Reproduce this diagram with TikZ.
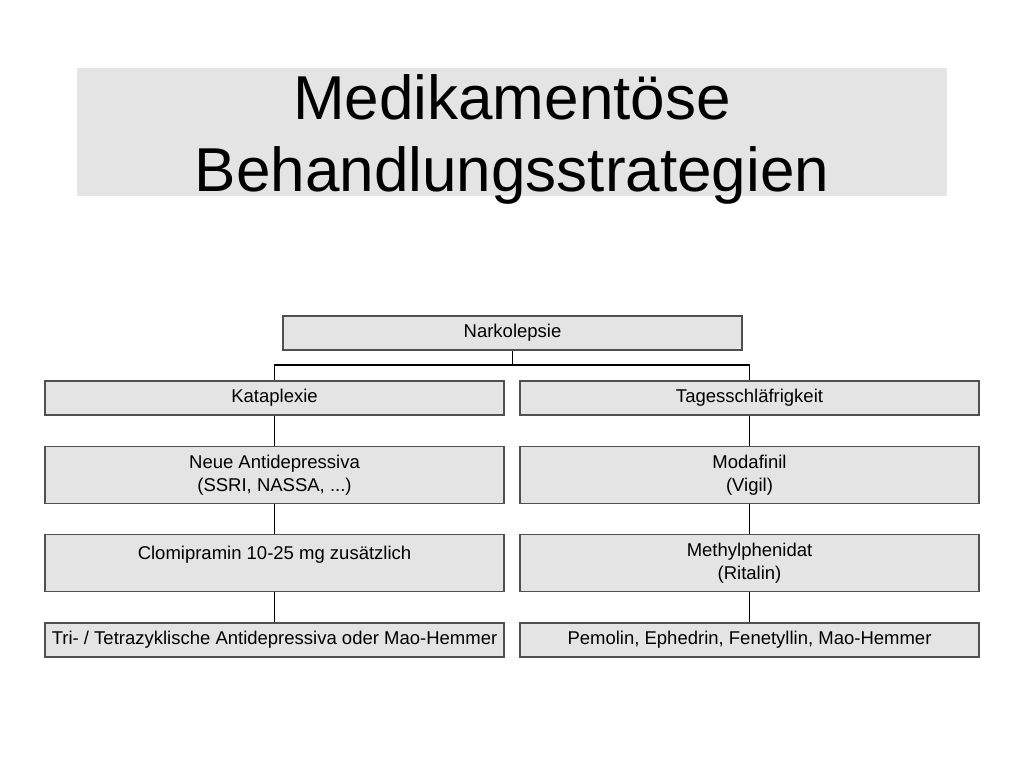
\documentclass[tikz,border=0pt]{standalone}
\usepackage{fontspec}
\setmainfont{Liberation Sans}
\definecolor{boxgray}{HTML}{E4E4E4}
\definecolor{linegray}{HTML}{505050}
\tikzset{
  stufe/.style={draw=linegray, line width=1.5pt, fill=boxgray, minimum width=459pt,
    align=center, font=\fontsize{18.5}{23}\selectfont, inner sep=0pt},
  kurz/.style={stufe, minimum height=34pt},
  lang/.style={stufe, minimum height=57pt},
  ast/.style={draw=black, line width=1.5pt}
}
\begin{document}
\begin{tikzpicture}[x=1pt,y=-1pt]
    \useasboundingbox (0,0) rectangle (1024,768);
    % title
    \fill[boxgray] (77,68) rectangle (947,196);
    \node (titel) at (512,139) [align=center, font=\fontsize{62}{72}\selectfont]
        {Medikament\"ose\\Behandlungsstrategien};
    % root
    \node (nark) at (512.5,333) [kurz] {Narkolepsie};
    \coordinate (split) at (512.5,365);
    % left branch
    \node (kata) at (274.5,398) [kurz] {Kataplexie};
    \node (neue) at (274.5,475) [lang] {Neue Antidepressiva\\(SSRI, NASSA, ...)};
    \node (clom) at (274.5,563) [lang] {\rule{0pt}{23pt}Clomipramin 10-25 mg zus\"atzlich\\\strut};
    \node (tri) at (274.5,640) [kurz] {Tri- / Tetrazyklische Antidepressiva oder Mao-Hemmer};
    % right branch
    \node (tage) at (749.5,398) [kurz] {Tagesschl\"afrigkeit};
    \node (moda) at (749.5,475) [lang] {Modafinil\\(Vigil)};
    \node (meth) at (749.5,563) [lang] {Methylphenidat\\(Ritalin)};
    \node (pemo) at (749.5,640) [kurz] {Pemolin, Ephedrin, Fenetyllin, Mao-Hemmer};
    % connectors
    \draw[ast] (nark) -- (split) -| (kata);
    \draw[ast] (split) -| (tage);
    \draw[ast] (kata) -- (neue);
    \draw[ast] (neue) -- (clom);
    \draw[ast] (clom) -- (tri);
    \draw[ast] (tage) -- (moda);
    \draw[ast] (moda) -- (meth);
    \draw[ast] (meth) -- (pemo);
\end{tikzpicture}
\end{document}
